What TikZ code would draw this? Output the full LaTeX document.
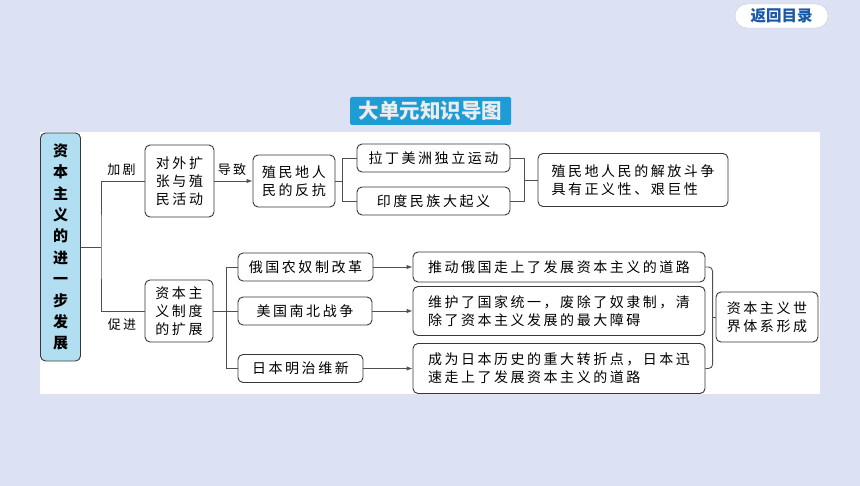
\documentclass[tikz,border=0pt]{standalone}
\usepackage{fontspec}
\usetikzlibrary{arrows.meta}
\newfontfamily\cjk[LetterSpace=18]{Noto Sans CJK SC}
\newfontfamily\cjkhead{Noto Sans CJK SC}
\definecolor{bgcol}{RGB}{220,226,243}
\definecolor{maincol}{RGB}{178,222,242}
\definecolor{bannercol}{RGB}{30,156,214}
\definecolor{backcol}{RGB}{26,88,168}
\definecolor{edgecol}{RGB}{55,55,55}
\definecolor{linkcol}{RGB}{80,80,80}
\begin{document}
\begin{tikzpicture}[x = 1pt, y = -1pt,
        box/.style 2 args = {draw = edgecol, line width = 0.9pt, rounded corners = 5pt, fill = white, inner sep = 0pt, align = center, minimum width = #1, minimum height = #2, font = \cjk\fontsize{14}{18}\selectfont},
        link/.style = {draw = linkcol, line width = 0.9pt},
        arr/.style = {link, -{Latex[length = 6pt, width = 4.5pt]}},
        tag/.style = {inner sep = 0pt, font = \cjk\fontsize{13}{15}\selectfont}]
    \fill [bgcol] (0, 0) rectangle (860, 486);
    \useasboundingbox (0, 0) rectangle (860, 486);
    \fill [white] (40, 132) rectangle (820, 394);
    \node [fill = white, draw = gray!40, rounded corners = 12pt, minimum width = 93pt, minimum height = 24pt, inner sep = 0pt, text = backcol, font = \cjkhead\bfseries\fontsize{15.5}{16}\selectfont] (back) at (781.5, 16) {返回目录};
    \node [fill = bannercol, rounded corners = 1.5pt, minimum width = 161pt, minimum height = 28pt, inner sep = 0pt, text = gray!15, font = \cjkhead\bfseries\fontsize{20.5}{22}\selectfont] (title) at (430.5, 111) {大单元知识导图};
    \node [draw = edgecol, line width = 0.9pt, fill = maincol, rounded corners = 5pt, minimum width = 40pt, minimum height = 228pt, inner sep = 0pt, align = center, font = \cjkhead\bfseries\fontsize{15}{21.4}\selectfont] (main) at (60.5, 247) {资\\本\\主\\义\\的\\进\\一\\步\\发\\展};
    \node [box = {69pt}{72pt}] (expand) at (179.5, 181) {对外扩\\张与殖\\民活动};
    \node [box = {82pt}{52pt}] (revolt) at (294, 181) {殖民地人\\民的反抗};
    \node [box = {153pt}{28pt}] (latin) at (433.5, 158) {拉丁美洲独立运动};
    \node [box = {153pt}{28pt}] (india) at (433.5, 201) {印度民族大起义};
    \node [box = {190pt}{53pt}, align = left] (struggle) at (633, 180) {殖民地人民的解放斗争\\具有正义性、艰巨性};
    \node [box = {68pt}{62pt}] (system) at (179, 311) {资本主\\义制度\\的扩展};
    \node [box = {135pt}{28pt}] (russia) at (305.5, 267) {俄国农奴制改革};
    \node [box = {134pt}{28pt}] (usa) at (305, 311) {美国南北战争};
    \node [box = {125pt}{28pt}] (japan) at (300.5, 368.5) {日本明治维新};
    \node [box = {292pt}{30pt}] (road) at (559, 267) {推动俄国走上了发展资本主义的道路};
    \node [box = {292pt}{49pt}, align = left] (union) at (559, 311) {维护了国家统一，废除了奴隶制，清\\除了资本主义发展的最大障碍};
    \node [box = {292pt}{50pt}, align = left] (turn) at (559, 368.5) {成为日本历史的重大转折点，日本迅\\速走上了发展资本主义的道路};
    \node [box = {102pt}{50pt}] (world) at (767, 317) {资本主义世\\界体系形成};
    \coordinate (trunk) at (101, 247);
    \draw [link] (main.east) -- (trunk);
    \draw [link] (expand.west) -| (trunk) |- (system.west);
    \node [tag] at (121.5, 170) {加剧};
    \node [tag] at (122, 325) {促进};
    \draw [arr] (expand.east) -- (revolt.west);
    \node [tag] at (232, 170) {导致};
    \draw [link] (revolt.east) -- ++(7, 0) coordinate (fork);
    \draw [link] (latin.west) -| (fork) |- (india.west);
    \draw [link] (struggle.west) -- ++(-13, 0) coordinate (join);
    \draw [link] (latin.east) -| (join) |- (india.east);
    \draw [link] (system.east) -- (usa.west);
    \draw [link] (russia.west) -- ++(-11, 0) |- (japan.west);
    \draw [arr] (russia.east) -- (road.west);
    \draw [arr] (usa.east) -- (union.west);
    \draw [arr] (japan.east) -- (turn.west);
    \draw [link] (world.west) -- ++(-3, 0) coordinate (merge);
    \draw [link, rounded corners = 4pt] (road.east) -| (merge) |- (turn.east);
\end{tikzpicture}
\end{document}
